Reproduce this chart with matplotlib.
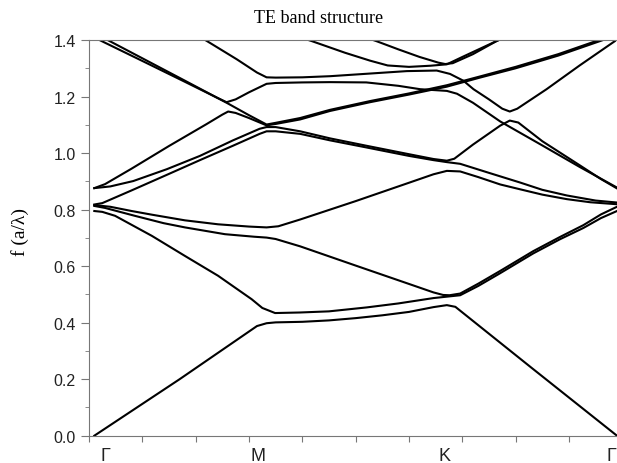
import matplotlib
matplotlib.use("Agg")
import matplotlib.pyplot as plt

# k-path position (point index along Γ-M-K-Γ), frequency f (a/λ)
band1_k = [1, 17, 31.5, 33.3, 35, 40, 45, 50, 55, 60, 64.6, 67.1, 68.7, 83, 99]
band1_f = [0.0, 0.2, 0.388, 0.398, 0.401, 0.403, 0.408, 0.416, 0.426, 0.438, 0.455, 0.462, 0.456, 0.24, 0.0]

band2_k = [1, 2.5, 4.9, 11.8, 18, 24.2, 30.5, 32.5, 34.9, 39.6, 45, 52.1, 58, 64.6, 67.1, 69.6, 73, 77.1, 83.3, 88.3, 92.7, 96, 99]
band2_f = [0.795, 0.792, 0.778, 0.707, 0.636, 0.566, 0.483, 0.452, 0.434, 0.436, 0.440, 0.454, 0.468, 0.487, 0.492, 0.497, 0.53, 0.575, 0.645, 0.695, 0.735, 0.77, 0.795]

band3_k = [1, 3, 8.6, 14, 18, 25.5, 31, 33.3, 35, 39.6, 50, 60, 64.6, 66.4, 67.6, 69.6, 73, 77.1, 83.3, 88.3, 92.7, 96, 99]
band3_f = [0.813, 0.806, 0.778, 0.752, 0.737, 0.713, 0.704, 0.701, 0.696, 0.67, 0.602, 0.537, 0.507, 0.498, 0.497, 0.503, 0.538, 0.583, 0.653, 0.703, 0.745, 0.783, 0.81]

band4_k = [1, 4, 8, 11.8, 18, 24.2, 30, 33.3, 35.5, 39.6, 50, 60, 64.6, 67.1, 69.6, 73, 77.1, 80.8, 85, 89.6, 94, 99]
band4_f = [0.816, 0.81, 0.795, 0.782, 0.762, 0.748, 0.74, 0.737, 0.741, 0.765, 0.83, 0.895, 0.925, 0.937, 0.935, 0.915, 0.889, 0.872, 0.853, 0.837, 0.826, 0.819]

band5_k = [1, 2.5, 8, 14.6, 20.8, 27, 32, 33.3, 35, 39.6, 45.2, 52, 60, 64.6, 67.1, 69.6, 75, 80.8, 85, 89.6, 95, 99]
band5_f = [0.818, 0.823, 0.868, 0.923, 0.975, 1.026, 1.068, 1.077, 1.077, 1.068, 1.045, 1.02, 0.99, 0.975, 0.968, 0.962, 0.93, 0.896, 0.87, 0.85, 0.832, 0.825]

band6_k = [1, 4, 8.3, 14.6, 20.8, 27, 32, 33.3, 35, 39.6, 45.2, 52, 60, 64.6, 67.1, 68.5, 72, 77.1, 78.9, 80.5, 85, 92, 96, 99]
band6_f = [0.876, 0.882, 0.901, 0.943, 0.99, 1.045, 1.086, 1.092, 1.092, 1.077, 1.052, 1.026, 0.996, 0.979, 0.973, 0.98, 1.03, 1.097, 1.115, 1.108, 1.042, 0.957, 0.908, 0.875]

band7_k = [1, 3, 8, 15, 22, 25, 26.1, 27.5, 30, 33.3, 35, 39.6, 45.2, 52.7, 60, 67.1, 73.3, 80, 88, 96.4]
band7_f = [0.876, 0.89, 0.945, 1.025, 1.102, 1.136, 1.147, 1.142, 1.124, 1.098, 1.103, 1.119, 1.149, 1.18, 1.207, 1.235, 1.267, 1.3, 1.345, 1.4]

band8_k = [1, 3.9, 18, 26, 30, 33.3, 35, 39.6, 45.2, 52.7, 60, 67.1, 73.3, 80, 88, 96.4]
band8_f = [1.425, 1.396, 1.256, 1.176, 1.134, 1.101, 1.107, 1.124, 1.153, 1.184, 1.211, 1.24, 1.271, 1.305, 1.35, 1.405]

band9_k = [1, 2.4, 10, 18, 24, 25.8, 27.5, 30, 33.3, 35, 40, 45.2, 52, 58, 62.1, 67.1, 69, 72, 77.1, 85, 92, 99]
band9_f = [1.409, 1.396, 1.326, 1.252, 1.196, 1.18, 1.19, 1.215, 1.245, 1.248, 1.25, 1.251, 1.25, 1.238, 1.226, 1.22, 1.21, 1.178, 1.112, 1.027, 0.951, 0.878]

band10_k = [20, 21.8, 27.7, 31.5, 33.3, 35, 40, 45.2, 50.8, 59.6, 65.2, 67.7, 70.2, 72.1, 75, 77.5, 78.9, 80.3, 85.8, 92, 98.6]
band10_f = [1.42, 1.4, 1.332, 1.285, 1.268, 1.267, 1.268, 1.272, 1.279, 1.29, 1.292, 1.28, 1.256, 1.226, 1.19, 1.157, 1.147, 1.157, 1.226, 1.31, 1.396]

band11_k = [40, 41.8, 48, 52.7, 56, 60, 64, 67.1, 70, 76.6, 78]
band11_f = [1.407, 1.396, 1.355, 1.327, 1.31, 1.305, 1.309, 1.314, 1.34, 1.398, 1.41]

band12_k = [52.5, 53.9, 58, 62, 65.5, 66.8, 68.2, 72, 76.4, 78]
band12_f = [1.405, 1.396, 1.367, 1.34, 1.32, 1.315, 1.318, 1.35, 1.396, 1.41]

bands = [
    (band1_k, band1_f), (band2_k, band2_f), (band3_k, band3_f),
    (band4_k, band4_f), (band5_k, band5_f), (band6_k, band6_f),
    (band7_k, band7_f), (band8_k, band8_f), (band9_k, band9_f),
    (band10_k, band10_f), (band11_k, band11_f), (band12_k, band12_f),
]

sym_labels = ["Γ", "M", "K", "Γ"]
sym_pos = [3, 31.7, 66.6, 97.9]

fig = plt.figure(figsize=(6.17, 4.64), dpi=100)
ax = fig.add_axes([0.1442, 0.0588, 0.8644, 0.8528])

for k, f in bands:
    ax.plot(k, f, c="black", lw=1.5, solid_joinstyle="round")

ax.set_xlim(0, 100)
ax.set_ylim(0, 1.4)
ax.set_xticks(range(0, 101, 10))
ax.set_xticklabels([])
ax.set_yticks([0, 0.2, 0.4, 0.6, 0.8, 1.0, 1.2, 1.4])
ax.set_yticks([0.1, 0.3, 0.5, 0.7, 0.9, 1.1, 1.3], minor=True)
ax.set_yticklabels(["0.0", "0.2", "0.4", "0.6", "0.8", "1.0", "1.2", "1.4"],
                   fontsize=11.5, family="Liberation Sans", color="#222222")
ax.tick_params(axis="y", which="major", direction="out", length=6, color="#777777")
ax.tick_params(axis="y", which="minor", direction="out", length=3, color="#777777")
ax.tick_params(axis="x", direction="out", length=4, color="#777777")
for side in ["left", "bottom", "top"]:
    ax.spines[side].set_color("#777777")
ax.spines["right"].set_visible(False)

# symmetry point labels under the axis
for lab, p in zip(sym_labels, sym_pos):
    ax.text(p, -0.04, lab, ha="center", va="top", fontsize=13,
            family="Liberation Sans", color="#222222")

fig.text(0.516, 0.961, "TE band structure", ha="center", va="center",
         fontsize=13, family="Liberation Serif")
fig.text(0.033, 0.499, "f (a/λ)", ha="center", va="center", rotation=90,
         fontsize=14, family="Liberation Serif")

fig.savefig("out.png", dpi=100)
